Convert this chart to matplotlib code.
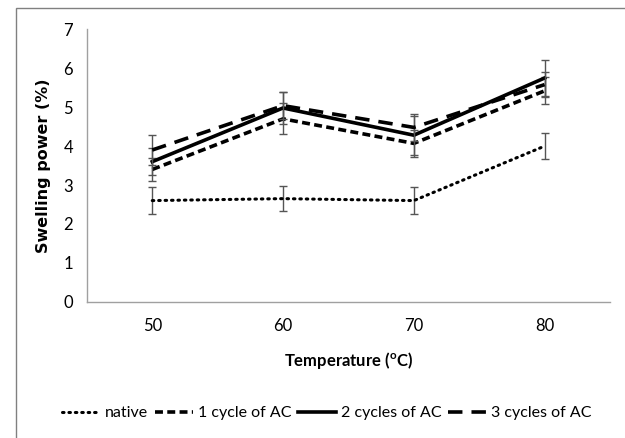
import matplotlib.pyplot as plt
from matplotlib.patches import Rectangle
import numpy as np

temps = ['50', '60', '70', '80']
native = [2.6, 2.65, 2.6, 4.0]
native_err = [0.35, 0.33, 0.35, 0.34]
cycle1 = [3.4, 4.7, 4.07, 5.42]
cycle1_err = [0.3, 0.4, 0.35, 0.35]
cycle2 = [3.6, 4.98, 4.28, 5.75]
cycle2_err = [0.35, 0.42, 0.5, 0.45]
cycle3 = [3.9, 5.04, 4.48, 5.58]
cycle3_err = [0.38, 0.35, 0.35, 0.32]
labels = ['native', '1 cycle of AC', '2 cycles of AC', '3 cycles of AC']

plt.rcParams['font.family'] = ['Lato', 'DejaVu Sans']

fig = plt.figure(figsize=(6.25, 4.38), dpi=100)
fig.patches.append(Rectangle((16 / 625, -0.05), 1.2, 1 - 8 / 438 + 0.05,
                             transform=fig.transFigure, fill=False,
                             edgecolor='#808080', linewidth=1))
ax = fig.add_axes([0.139, 0.311, 0.837, 0.622])

x = np.arange(len(temps))
series = [native, cycle1, cycle2, cycle3]
errs = [native_err, cycle1_err, cycle2_err, cycle3_err]
styles = [dict(linestyle=(0, (0.5, 1.6)), linewidth=2.2, dash_capstyle='round'),
          dict(linestyle=(0, (2.2, 1.2)), linewidth=2.6),
          dict(linestyle='-', linewidth=2.6),
          dict(linestyle=(0, (4, 2.5)), linewidth=2.6)]

for vals, err, st, lab in zip(series, errs, styles, labels):
    ax.errorbar(x, vals, yerr=err, fmt='none', ecolor='#555555',
                elinewidth=1, capsize=3, capthick=1)
    ax.plot(x, vals, color='black', label=lab, **st)

ax.set_xlim(-0.5, 3.5)
ax.set_ylim(0, 7)
ax.set_xticks(x)
ax.set_xticklabels(temps)
ax.set_yticks(range(8))
ax.tick_params(length=0, labelsize=12)
ax.tick_params(axis='x', pad=12)
ax.tick_params(axis='y', pad=10)
for s in ['top', 'right']:
    ax.spines[s].set_visible(False)
for s in ['left', 'bottom']:
    ax.spines[s].set_color('#a0a0a0')
    ax.spines[s].set_linewidth(1)

ax.set_ylabel('Swelling power (%)', fontsize=11.5, fontweight='bold',
              family='DejaVu Sans', labelpad=9)
ax.set_xlabel('Temperature ($^{\\mathregular{o}}$C)', fontsize=12,
              fontweight='bold', labelpad=11)

fig.legend(loc='center', bbox_to_anchor=(0.523, 0.057), ncol=4, frameon=False,
           fontsize=11.5, handlelength=2.4, handletextpad=0.3, columnspacing=0.4)

fig.savefig('out.png', dpi=100)
